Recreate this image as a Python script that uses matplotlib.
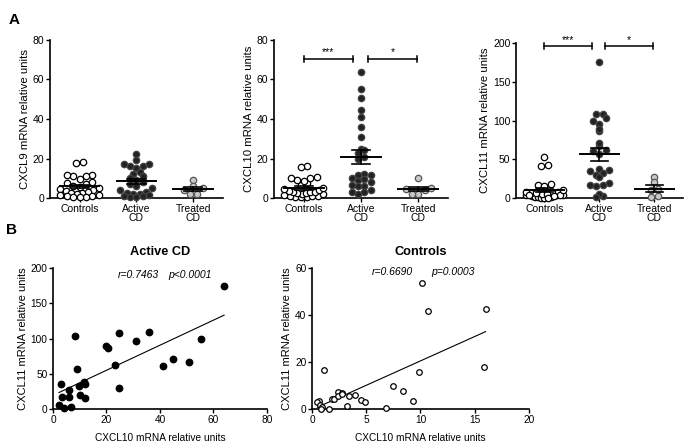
import numpy as np
import matplotlib
matplotlib.use("Agg")
import matplotlib.pyplot as plt

plt.rcParams["font.family"] = ["Liberation Sans", "DejaVu Sans"]

groups = ["Controls", "Active\nCD", "Treated\nCD"]

# paired CXCL10 / CXCL11 values (panel A and panel B)
ctrl_cxcl10 = [1.1, 0.6, 0.5, 0.7, 0.9, 0.8, 1.6, 1.8, 2.0, 2.4, 2.4, 2.8, 2.8, 3.2,
               3.4, 4.0, 4.5, 4.9, 6.8, 7.5, 8.4, 9.3, 9.9, 10.1, 10.7, 16.0, 15.9]
ctrl_cxcl11 = [16.5, 3.4, 3.0, 1.7, 1.0, 0.2, 0.2, 4.3, 4.3, 7.3, 5.5, 6.9, 6.3, 1.4,
               5.5, 5.9, 3.8, 2.8, 0.3, 9.8, 7.5, 3.4, 15.7, 53.5, 41.8, 42.4, 18.0]
active_cxcl10 = [64.0, 55.3, 50.8, 44.7, 41.1, 35.9, 31.0, 24.7, 24.5, 23.0, 20.7, 19.7, 8.2,
                 9.0, 11.5, 12.0, 11.8, 9.8, 10.0, 6.1, 6.0, 6.6, 3.0, 3.2, 2.2, 4.2]
active_cxcl11 = [175, 100, 67, 71, 61, 109, 96, 108, 30, 62, 87, 89, 103,
                 57, 38, 36, 16, 32, 20, 27, 17, 3, 35, 17, 5, 1.5]
treated_cxcl10 = [10, 5, 4.5, 4, 2, 2]
treated_cxcl11 = [27, 21, 12, 10, 2, 1]

ctrl_cxcl9 = [18, 17.5, 11, 11.5, 11.5, 11, 9.5, 7, 8, 7.5, 6, 5.5, 5, 4.5, 4, 3.5,
              3, 2.5, 2.5, 2, 1.5, 1.5, 1, 1, 0.5, 0.5, 0.5]
active_cxcl9 = [22.5, 19, 17, 17, 16, 16, 15, 13, 12, 11, 10, 9, 8, 7, 6, 5, 4, 3,
                2.5, 2, 2, 1.5, 1, 0.5, 0.5, 1]
treated_cxcl9 = [9, 6, 5, 4, 2, 2]

face = ["white", "#222222", "#c8c8c8"]
edge = ["black", "#444444", "#555555"]


def style(ax):
    for s in ["top", "right"]:
        ax.spines[s].set_visible(False)
    for s in ["left", "bottom"]:
        ax.spines[s].set_linewidth(1.2)
    ax.tick_params(width=1.0, length=3, labelsize=7.5, pad=1)


def spread(ax, xc, vals, diam, half_width):
    # Prism-like scatter: bin values into rows, spread each row sideways
    vals = np.asarray(vals, float)
    pts = ax.transData.transform(np.column_stack([np.full(len(vals), xc), vals]))
    lim_px = ax.transData.transform([[xc + half_width, 0]])[0, 0] - pts[0, 0]
    rows = np.floor(pts[:, 1] / diam).astype(int)
    offs = np.zeros(len(vals))
    for r in np.unique(rows):
        idx = np.where(rows == r)[0]
        idx = idx[np.argsort(vals[idx])]
        n = len(idx)
        if n == 1:
            continue
        gap = min(diam, 2 * lim_px / (n - 1))
        pos = (np.arange(n) - (n - 1) / 2) * gap
        # alternate so neighbours in value are not side by side
        order = np.argsort(np.abs(pos), kind="stable")
        offs[idx] = pos[order]
    back = ax.transData.inverted().transform(np.column_stack([pts[:, 0] + offs, pts[:, 1]]))
    return back[:, 0]


def column_plot(ax, data, ylabel, ymax, step, brackets=None):
    ax.set_xlim(-0.52, 2.52)
    ax.set_ylim(0, ymax)
    ax.set_yticks(np.arange(0, ymax + 1, step))
    ax.set_xticks(range(3))
    ax.set_xticklabels(groups, fontsize=8.2, linespacing=0.95)
    ax.tick_params(axis="x", length=0, pad=2)
    ax.set_ylabel(ylabel, fontsize=8.2, labelpad=2)
    for k, vals in enumerate(data):
        xs = spread(ax, k, vals, 6.4, 0.34)
        ax.plot(xs, vals, "o", ms=4.6, mfc=face[k], mec=edge[k], mew=0.9,
                clip_on=False, zorder=3)
        m = np.mean(vals)
        sem = np.std(vals, ddof=1) / np.sqrt(len(vals))
        ax.plot([k - 0.35, k + 0.35], [m, m], color="black", lw=1.4, zorder=4)
        ax.plot([k, k], [m - sem, m + sem], color="black", lw=1.2, zorder=4)
        for e in (m - sem, m + sem):
            ax.plot([k - 0.16, k + 0.16], [e, e], color="black", lw=1.2, zorder=4)
    if brackets:
        for x1, x2, yb, txt in brackets:
            h = ymax * 0.02
            ax.plot([x1, x2], [yb, yb], color="black", lw=1.1, clip_on=False)
            ax.plot([x1, x1], [yb - h, yb + h], color="black", lw=1.1, clip_on=False)
            ax.plot([x2, x2], [yb - h, yb + h], color="black", lw=1.1, clip_on=False)
            ax.text((x1 + x2) / 2, yb + h * 0.5, txt, ha="center", va="bottom",
                    fontsize=7.5, clip_on=False)
    style(ax)


fig = plt.figure(figsize=(6.86, 4.44), dpi=100)

ax1 = fig.add_axes([0.0729, 0.554, 0.252, 0.356])
ax2 = fig.add_axes([0.3994, 0.554, 0.254, 0.356])
ax3 = fig.add_axes([0.752, 0.554, 0.2436, 0.349])

column_plot(ax1, [ctrl_cxcl9, active_cxcl9, treated_cxcl9],
            "CXCL9 mRNA relative units", 80, 20)
column_plot(ax2, [ctrl_cxcl10, active_cxcl10, treated_cxcl10],
            "CXCL10 mRNA relative units", 80, 20,
            brackets=[(0.0, 0.85, 70.5, "***"), (1.12, 1.98, 70.5, "*")])
column_plot(ax3, [ctrl_cxcl11, active_cxcl11, treated_cxcl11],
            "CXCL11 mRNA relative units", 200, 50,
            brackets=[(0.0, 0.87, 196, "***"), (1.1, 1.98, 196, "*")])

# panel B correlations
ax4 = fig.add_axes([0.0773, 0.0788, 0.3117, 0.3176])
ax5 = fig.add_axes([0.4548, 0.0788, 0.3163, 0.3176])


def corr_plot(ax, x, y, xmax, xstep, ymax, ystep, title, rtxt, ptxt, filled):
    x = np.asarray(x)
    y = np.asarray(y)
    if filled:
        ax.plot(x, y, "o", ms=4.6, mfc="black", mec="black", clip_on=False, zorder=3)
    else:
        ax.plot(x, y, "o", ms=4.0, mfc="white", mec="black", mew=0.9,
                clip_on=False, zorder=3)
    b, a = np.polyfit(x, y, 1)
    xl = np.array([x.min(), x.max()])
    ax.plot(xl, a + b * xl, color="black", lw=0.8)
    ax.set_xlim(0, xmax)
    ax.set_ylim(0, ymax)
    ax.set_xticks(np.arange(0, xmax + 1, xstep))
    ax.set_yticks(np.arange(0, ymax + 1, ystep))
    ax.set_xlabel("CXCL10 mRNA relative units", fontsize=7.3, labelpad=6)
    ax.set_ylabel("CXCL11 mRNA relative units", fontsize=8.0, labelpad=2)
    ax.set_title(title, fontsize=9.2, fontweight="bold", pad=9)
    ax.text(0.40, 0.985, rtxt, transform=ax.transAxes, ha="center", va="top",
            fontsize=7.5, style="italic")
    ax.text(0.64, 0.985, ptxt, transform=ax.transAxes, ha="center", va="top",
            fontsize=7.5, style="italic")
    style(ax)
    ax.tick_params(labelsize=7.3)


corr_plot(ax4, active_cxcl10, active_cxcl11, 80, 20, 200, 50,
          "Active CD", "r=0.7463", "p<0.0001", True)
corr_plot(ax5, ctrl_cxcl10, ctrl_cxcl11, 20, 5, 60, 20,
          "Controls", "r=0.6690", "p=0.0003", False)
ax5.texts[0].set_x(0.37)
ax5.texts[0].set_y(1.005)
ax5.texts[1].set_x(0.65)
ax5.texts[1].set_y(1.01)

fig.text(0.013, 0.97, "A", fontsize=11, fontweight="bold", va="top")
fig.text(0.009, 0.497, "B", fontsize=11, fontweight="bold", va="top")

fig.savefig("out.png", dpi=100)
